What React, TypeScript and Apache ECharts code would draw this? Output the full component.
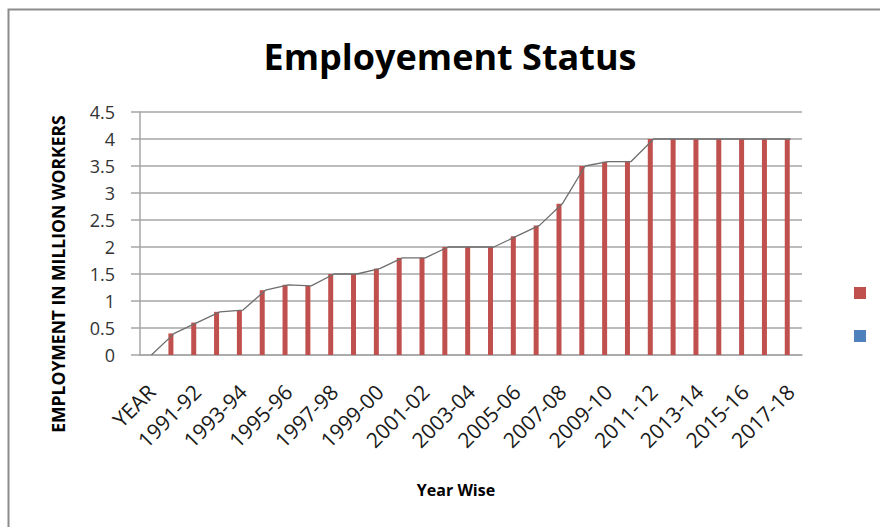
import React, { useEffect, useRef } from "react";
import * as echarts from "echarts";

const categories = [
  "YEAR", "1990-91", "1991-92", "1992-93", "1993-94", "1994-95", "1995-96", "1996-97",
  "1997-98", "1998-99", "1999-00", "2000-01", "2001-02", "2002-03", "2003-04", "2004-05",
  "2005-06", "2006-07", "2007-08", "2008-09", "2009-10", "2010-11", "2011-12", "2012-13",
  "2013-14", "2014-15", "2015-16", "2016-17", "2017-18",
];
const employment = [
  0, 0.4, 0.6, 0.8, 0.83, 1.2, 1.3, 1.28, 1.5, 1.5, 1.6, 1.8, 1.8, 2.0, 2.0, 2.0,
  2.2, 2.4, 2.8, 3.5, 3.58, 3.58, 4, 4, 4, 4, 4, 4, 4,
];
const yTicks = { min: 0, max: 4.5, interval: 0.5 };

const FONT = "'Open Sans', Lato, sans-serif";

export default function App() {
  const ref = useRef<HTMLDivElement>(null);
  useEffect(() => {
    if (!ref.current) return;
    const chart = echarts.init(ref.current, null, { renderer: "svg" });
    chart.setOption({
      animation: false,
      backgroundColor: "#ffffff",
      textStyle: { fontFamily: FONT },
      grid: { left: 140, right: 78, top: 112, bottom: 172, containLabel: false },
      legend: {
        show: true,
        orient: "vertical",
        left: 849,
        top: 282,
        itemWidth: 12,
        itemHeight: 12,
        itemGap: 31,
        icon: "rect",
        formatter: () => "",
        selectedMode: false,
        data: ["Series1", "Series2"],
      },
      xAxis: {
        type: "category",
        data: categories,
        boundaryGap: true,
        axisLine: { show: true, lineStyle: { color: "#a6a6a6", width: 1.5 } },
        axisTick: { show: false },
        axisLabel: {
          interval: 1,
          rotate: 45,
          fontSize: 21,
          color: "#1a1a1a",
          fontFamily: FONT,
          margin: 33,
        },
      },
      yAxis: {
        type: "value",
        min: yTicks.min,
        max: yTicks.max,
        interval: yTicks.interval,
        axisLine: { show: true, lineStyle: { color: "#a6a6a6", width: 1.5 } },
        axisTick: { show: true, length: 9, lineStyle: { color: "#a6a6a6", width: 1.5 } },
        axisLabel: {
          fontSize: 18,
          color: "#333333",
          fontFamily: FONT,
          margin: 25,
          formatter: (v: number) => String(v),
        },
        splitLine: { show: true, lineStyle: { color: "#a6a6a6", width: 1.5 } },
      },
      series: [
        {
          name: "Series1",
          type: "bar",
          data: employment,
          barWidth: 5,
          itemStyle: { color: "#C0504D" },
          z: 2,
        },
        {
          name: "Series2",
          type: "bar",
          data: [],
          itemStyle: { color: "#4F81BD" },
        },
        {
          name: "Trend",
          type: "line",
          data: employment,
          symbol: "none",
          lineStyle: { color: "#6e6e6e", width: 1.3 },
          itemStyle: { color: "#6e6e6e" },
          z: 3,
        },
      ],
      graphic: [
        {
          type: "rect",
          shape: { x: 8.5, y: 9.5, width: 900, height: 600 },
          style: { fill: "none", stroke: "#8c8c8c", lineWidth: 2 },
          silent: true,
        },
        {
          type: "text",
          x: 450,
          y: 56,
          style: {
            text: "Employement Status",
            font: `bold 36px ${FONT}`,
            fill: "#000000",
            textAlign: "center",
            textVerticalAlign: "middle",
          },
        },
        {
          type: "text",
          x: 58,
          y: 274,
          rotation: Math.PI / 2,
          style: {
            text: "EMPLOYMENT IN MILLION WORKERS",
            font: `bold 17.5px ${FONT}`,
            fill: "#000000",
            textAlign: "center",
            textVerticalAlign: "middle",
          },
        },
        {
          type: "text",
          x: 456,
          y: 490,
          style: {
            text: "Year Wise",
            font: `bold 16px ${FONT}`,
            fill: "#000000",
            textAlign: "center",
            textVerticalAlign: "middle",
          },
        },
      ],
    });
    return () => chart.dispose();
  }, []);
  return (
    <div
      ref={ref}
      style={{ position: "fixed", left: 0, top: 0, width: 880, height: 527 }}
    />
  );
}
